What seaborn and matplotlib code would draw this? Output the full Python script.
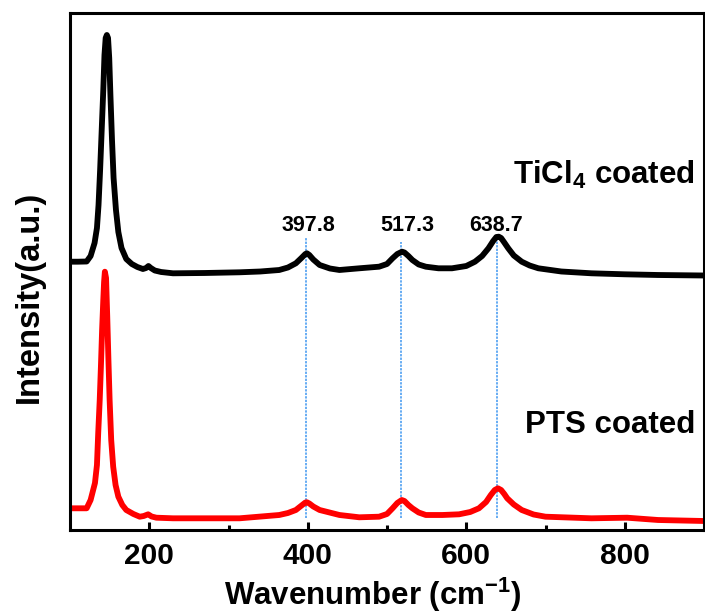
import numpy as np
import pandas as pd
import matplotlib
matplotlib.use("Agg")
import matplotlib.pyplot as plt
import seaborn as sns

# ---- data (intensity in arbitrary units) ----
ticl4_x = [100, 110, 121, 126, 131, 134, 136, 138, 140, 142, 143.5, 145, 146.5, 148,
           149.5, 151, 153, 155, 158, 161, 165, 171, 178, 185, 192, 196, 199, 202, 207,
           215, 230, 270, 314, 340, 364, 375, 385, 392, 397, 399, 402, 407, 415, 428,
           440, 465, 490, 500, 507, 513, 519, 522, 527, 532, 540, 549, 565, 582, 600,
           611, 620, 628, 634, 638, 641, 644, 648, 653, 660, 670, 680, 691, 720, 758,
           800, 842, 900]
ticl4_y = [268.3, 268.3, 268.5, 274, 287, 302, 325, 360, 400, 440, 475, 492, 495, 492,
           472, 435, 390, 352, 320, 298, 282, 271, 266, 263, 261, 262, 264, 262, 259.5,
           258, 256.7, 257, 257.7, 258.5, 260, 262.5, 266.7, 272, 276, 276.7, 275, 270.5,
           265, 261.5, 260, 261.7, 263.3, 266, 271.7, 276, 278.3, 277.5, 274, 270, 265.5,
           263.3, 261.7, 261.7, 264, 268.3, 274, 281.7, 289, 293, 293.3, 292, 287.5,
           281.7, 274.5, 268.3, 264.5, 261.7, 258.5, 256.7, 255.7, 255, 254.5]

pts_x = [100, 110, 121, 126, 131.5, 134, 135.6, 137.5, 139, 140.5, 142, 143, 144, 145.5,
         147, 148.5, 150, 152, 154.5, 157.5, 161, 166, 171, 180, 188, 193, 198.6, 203,
         209, 230, 314, 364, 375, 385, 393, 397, 399, 402, 407, 415, 440, 465, 490, 500,
         507, 513, 518.6, 522, 527, 532, 540, 549, 570, 591, 605, 616, 625, 631, 636,
         640, 644, 648, 651.7, 660, 670, 685, 700, 758, 803, 842, 900]
pts_y = [21.7, 21.7, 21.7, 30, 47, 65, 97, 130, 163.3, 200, 230, 248, 258.3, 252,
         213.3, 170, 130, 90, 63.3, 45, 33.3, 25, 20, 16, 13.3, 14, 15.7, 13.5,
         12.3, 11.7, 11.7, 15, 17, 20, 25, 27.5, 27.7, 26.5, 23.5, 20, 15, 12.7, 13.3, 16,
         21.7, 27, 30, 29, 25, 21.7, 17.5, 15, 15, 15.7, 18, 21.7, 28, 35, 40,
         41.7, 40, 36, 31.7, 25.5, 20, 15.5, 13.3, 11.7, 12.3, 10, 9]

peak_positions = [397.8, 517.3, 638.7]
peak_labels = ["397.8", "517.3", "638.7"]
peak_label_x = [400.5, 526, 638]
peak_line_top = [292, 288, 296]

series_labels = ["TiCl$_4$ coated", "PTS coated"]
x_ticks = [200, 400, 600, 800]
x_minor = [300, 500, 700]

# ---- style ----
sns.set_style("white")
plt.rcParams["font.family"] = ["Liberation Sans", "DejaVu Sans"]
plt.rcParams["font.weight"] = "bold"
plt.rcParams["text.color"] = "black"
plt.rcParams["axes.labelcolor"] = "black"
plt.rcParams["xtick.color"] = "black"
plt.rcParams["xtick.labelcolor"] = "black"
plt.rcParams["mathtext.fontset"] = "custom"
plt.rcParams["mathtext.rm"] = "Liberation Sans:bold"
plt.rcParams["mathtext.bf"] = "Liberation Sans:bold"
plt.rcParams["mathtext.it"] = "Liberation Sans:bold"
plt.rcParams["mathtext.default"] = "bf"

fig = plt.figure(figsize=(7.05, 6.13), dpi=100)
ax = fig.add_axes([70/705, 83/613, 634/705, 517/613])

df_t = pd.DataFrame({"x": ticl4_x, "y": ticl4_y})
df_p = pd.DataFrame({"x": pts_x, "y": pts_y})
sns.lineplot(data=df_t, x="x", y="y", color="black", lw=4.2, ax=ax,
             solid_joinstyle="round", solid_capstyle="round")
sns.lineplot(data=df_p, x="x", y="y", color="#ff0000", lw=4.2, ax=ax,
             solid_joinstyle="round", solid_capstyle="round")

for xp, top in zip(peak_positions, peak_line_top):
    ax.plot([xp, xp], [12, top], color="#3d96f0", lw=1.1, ls=(0, (1.5, 0.8)), zorder=1)

for lx, lab in zip(peak_label_x, peak_labels):
    ax.text(lx, 299, lab, ha="center", va="baseline", fontsize=15.5,
            fontweight="bold", color="black")

ax.text(888.5, 346, series_labels[0], ha="right", va="baseline", fontsize=22.5,
        fontweight="bold", color="black")
ax.text(888.5, 97, series_labels[1], ha="right", va="baseline", fontsize=22.5,
        fontweight="bold", color="black")

ax.set_xlim(100, 900)
ax.set_ylim(0, 517)
ax.set_xticks(x_ticks)
ax.set_xticks(x_minor, minor=True)
ax.set_yticks([])
ax.tick_params(axis="x", which="major", direction="in", length=6, width=2.2,
               labelsize=21.5, pad=9, bottom=True, top=False, colors="black")
ax.tick_params(axis="x", which="minor", direction="in", length=3.5, width=2.2,
               bottom=True, top=False, colors="black")
for lab in ax.get_xticklabels():
    lab.set_fontweight("bold")
for s in ax.spines.values():
    s.set_linewidth(2.2)
    s.set_color("black")

ax.set_xlabel("Wavenumber (cm$^{-1}$)", fontsize=22.5, fontweight="bold", color="black")
ax.xaxis.set_label_coords(0.478, -0.088)
ax.xaxis.label.set_va("top")
ax.set_ylabel("Intensity(a.u.)", fontsize=23.5, fontweight="bold", color="black")
ax.yaxis.set_label_coords(-0.04, 0.45)

fig.savefig("out.png", dpi=100)
